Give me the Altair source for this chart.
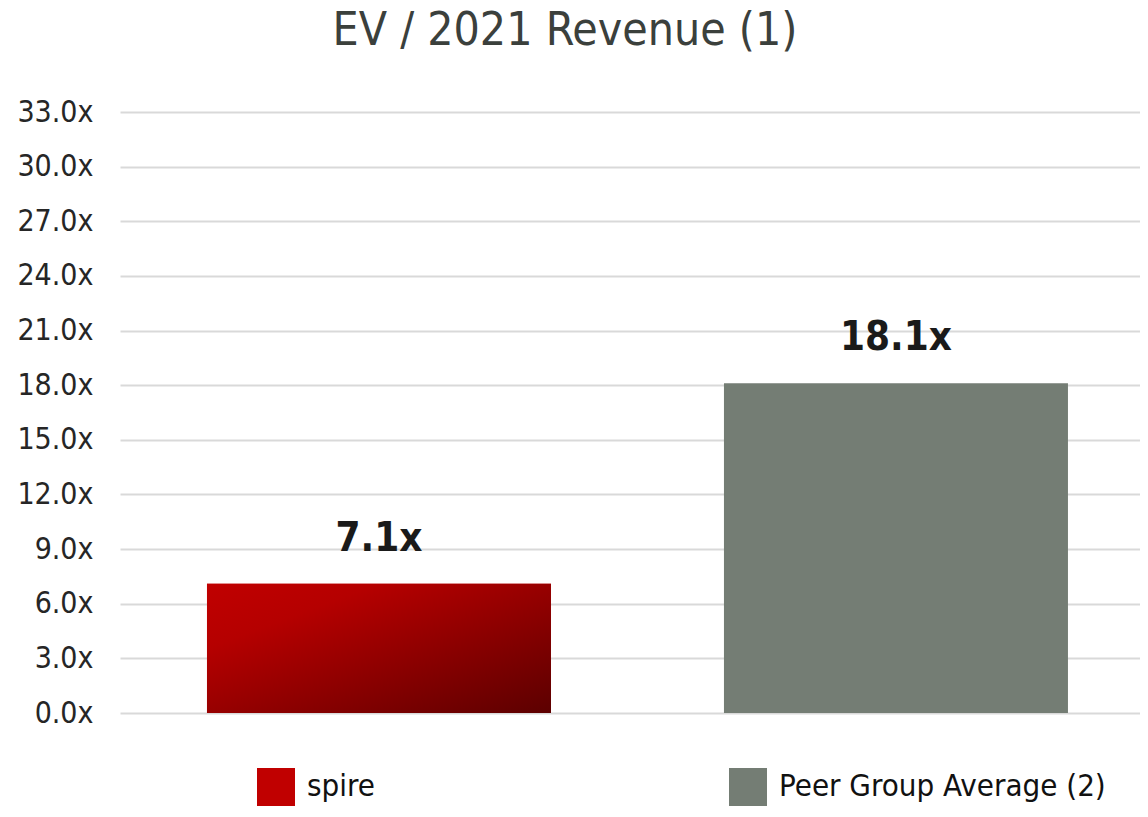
import altair as alt
import pandas as pd

categories = ["spire", "Peer Group Average (2)"]
values = [7.1, 18.1]
value_labels = ["7.1x", "18.1x"]
colors = ["#c00000", "#747d74"]
y_ticks = [0, 3, 6, 9, 12, 15, 18, 21, 24, 27, 30, 33]
title_text = "EV / 2021 Revenue (1)"

FONT = "'DejaVu Sans Condensed', 'Open Sans', 'DejaVu Sans', sans-serif"

df = pd.DataFrame({"cat": categories, "val": values, "lab": value_labels})

x_enc = alt.X("cat:N", sort=categories, axis=None,
              scale=alt.Scale(paddingInner=0.3346, paddingOuter=0.1538, align=0.547))
y_enc = alt.Y("val:Q",
              scale=alt.Scale(domain=[0, 33], nice=False),
              axis=alt.Axis(values=y_ticks, title=None,
                            labelExpr="format(datum.value, '.1f') + 'x'",
                            labelFontSize=30, labelFont=FONT, labelColor="#262626",
                            labelPadding=27, minExtent=112,
                            domain=False, ticks=False,
                            grid=True, gridColor="#d9d9d9", gridWidth=2))

bars = alt.Chart(df).mark_bar().encode(
    x=x_enc,
    y=y_enc,
    fill=alt.Fill("cat:N", sort=categories,
                  scale=alt.Scale(domain=categories, range=colors),
                  legend=alt.Legend(title=None, orient="none", direction="horizontal",
                                    legendX=137, legendY=656,
                                    symbolType="square", symbolSize=1444,
                                    symbolStrokeWidth=0,
                                    labelFontSize=31, labelFont=FONT,
                                    labelColor="#111111", labelOffset=12,
                                    columnPadding=354, labelLimit=500)),
)

grad = alt.Gradient(
    gradient="linear",
    stops=[alt.GradientStop(color="#c00000", offset=0),
           alt.GradientStop(color="#b50000", offset=0.25),
           alt.GradientStop(color="#5c0000", offset=1)],
    x1=0, y1=0, x2=1, y2=1,
)

spire_bar = alt.Chart(df).transform_filter(
    alt.datum.cat == categories[0]
).mark_bar(color=grad).encode(x=x_enc, y=y_enc)

texts = alt.Chart(df).mark_text(
    baseline="bottom", dy=-25, fontSize=40, fontWeight="bold",
    font=FONT, color="#1a1a1a"
).encode(x=x_enc, y=y_enc, text="lab:N")

chart = alt.layer(bars, spire_bar, texts).properties(
    width=1020, height=601, padding=0,
    title=alt.TitleParams(title_text, fontSize=46, font=FONT, fontWeight="normal",
                          color="#3b403c", anchor="middle", frame="bounds",
                          offset=42, dx=-9),
).configure_view(stroke=None)

chart.save("out.html", embed_options={"renderer": "svg", "actions": False})
